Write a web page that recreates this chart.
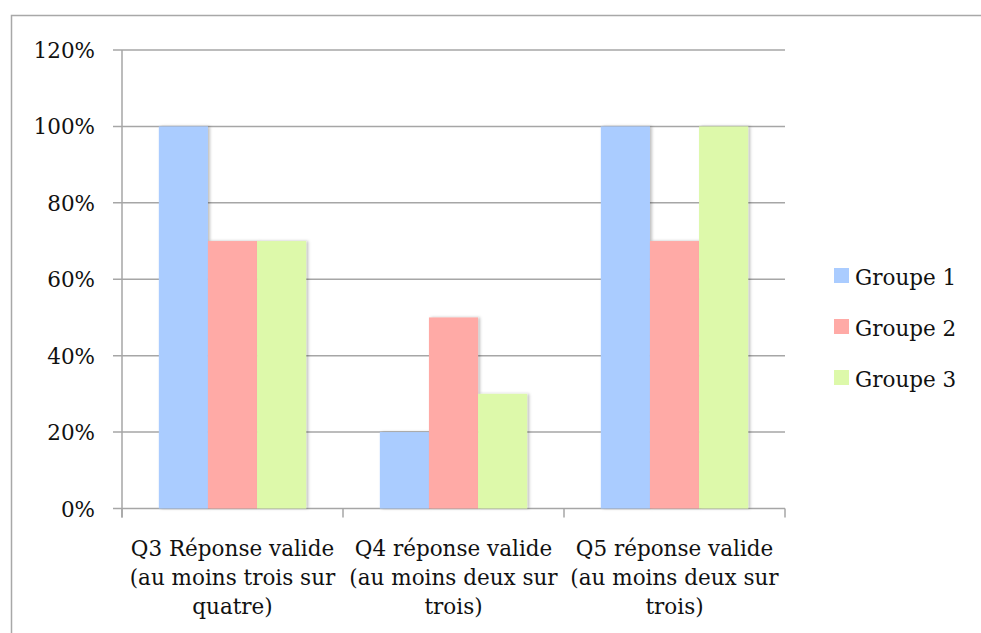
<!DOCTYPE html>
<html>
<head>
<meta charset="utf-8">
<script src="https://cdn.jsdelivr.net/npm/d3@7"></script>
<style>
  body { margin: 0; background: #fff; }
  text { font-family: "DejaVu Serif", serif; fill: #111; }
</style>
</head>
<body>
<script>
const categories = [
  ["Q3 Réponse valide", "(au moins trois sur", "quatre)"],
  ["Q4 réponse valide", "(au moins deux sur", "trois)"],
  ["Q5 réponse valide", "(au moins deux sur", "trois)"],
];
const series = ["Groupe 1", "Groupe 2", "Groupe 3"];
const groupe1 = [1.0, 0.2, 1.0];
const groupe2 = [0.7, 0.5, 0.7];
const groupe3 = [0.7, 0.3, 1.0];
const yTicks = [0, 0.2, 0.4, 0.6, 0.8, 1.0, 1.2];

const colors = ["#aaccff", "#ffaaa6", "#ddf9aa"];
const values = [groupe1, groupe2, groupe3];

const width = 981;
const height = 633;
const margin = { top: 50, left: 122, right: 196, bottom: 124 };
const taille = "21.5px";

const svg = d3
  .select("body")
  .append("svg")
  .attr("width", width)
  .attr("height", height);

// cadre
svg
  .append("rect")
  .attr("x", 11.5)
  .attr("y", 15.5)
  .attr("width", 980)
  .attr("height", 640)
  .attr("fill", "none")
  .attr("stroke", "#a8a8a8")
  .attr("stroke-width", 1.5);

const escalaY = d3
  .scaleLinear()
  .domain([0, 1.2])
  .range([height - margin.bottom - 0.5, margin.top]);

const escalaX = d3
  .scaleBand()
  .domain(d3.range(categories.length))
  .range([margin.left, width - margin.right])
  .paddingInner(0)
  .paddingOuter(0);

const escalaSerie = d3
  .scaleBand()
  .domain(d3.range(series.length))
  .range([0, escalaX.bandwidth()])
  .paddingOuter(0.75)
  .paddingInner(0);

// grille
svg
  .append("g")
  .selectAll("line")
  .data(yTicks)
  .join("line")
  .attr("x1", margin.left - 9)
  .attr("x2", width - margin.right)
  .attr("y1", (d) => escalaY(d))
  .attr("y2", (d) => escalaY(d))
  .attr("stroke", "#a6a6a6")
  .attr("stroke-width", 1.5);

// axe Y
svg
  .append("line")
  .attr("x1", margin.left)
  .attr("x2", margin.left)
  .attr("y1", margin.top)
  .attr("y2", escalaY(0) + 9)
  .attr("stroke", "#a6a6a6")
  .attr("stroke-width", 1.5);

svg
  .append("g")
  .selectAll("text")
  .data(yTicks)
  .join("text")
  .attr("x", 95)
  .attr("y", (d) => escalaY(d) + 8)
  .attr("text-anchor", "end")
  .style("font-size", taille)
  .text((d) => d3.format(".0%")(d));

// ticks axe X
const bornes = d3.range(categories.length + 1).map((i) =>
  i < categories.length ? escalaX(i) : escalaX(i - 1) + escalaX.bandwidth()
);
svg
  .append("g")
  .selectAll("line")
  .data(bornes)
  .join("line")
  .attr("x1", (d) => d)
  .attr("x2", (d) => d)
  .attr("y1", escalaY(0))
  .attr("y2", escalaY(0) + 9)
  .attr("stroke", "#a6a6a6")
  .attr("stroke-width", 1.5);

// ombre
const defs = svg.append("defs");
const filtre = defs
  .append("filter")
  .attr("id", "ombre")
  .attr("x", "-20%")
  .attr("y", "-5%")
  .attr("width", "140%")
  .attr("height", "110%");
filtre
  .append("feDropShadow")
  .attr("dx", 2)
  .attr("dy", 0)
  .attr("stdDeviation", 1.5)
  .attr("flood-color", "#000")
  .attr("flood-opacity", 0.25);

// barres
const groupes = svg
  .append("g")
  .selectAll("g")
  .data(series)
  .join("g")
  .attr("fill", (d, i) => colors[i]);

groupes
  .selectAll("rect")
  .data((d, i) => values[i].map((v, c) => ({ v, c, s: i })))
  .join("rect")
  .attr("x", (d) => escalaX(d.c) + escalaSerie(d.s))
  .attr("width", escalaSerie.bandwidth())
  .attr("y", (d) => escalaY(d.v))
  .attr("height", (d) => escalaY(0) - escalaY(d.v))
  .attr("filter", "url(#ombre)");

// étiquettes X
svg
  .append("g")
  .selectAll("text")
  .data(categories)
  .join("text")
  .attr("text-anchor", "middle")
  .attr("x", (d, i) => escalaX(i) + escalaX.bandwidth() / 2)
  .attr("y", 556)
  .style("font-size", taille)
  .selectAll("tspan")
  .data((d) => d)
  .join("tspan")
  .attr("x", function () {
    return this.parentNode.getAttribute("x");
  })
  .attr("dy", (d, i) => (i === 0 ? 0 : 29))
  .text((d) => d);

// légende
const legende = svg
  .append("g")
  .selectAll("g")
  .data(series)
  .join("g")
  .attr("transform", (d, i) => `translate(834, ${268 + i * 51})`);

legende
  .append("rect")
  .attr("width", 15)
  .attr("height", 15)
  .attr("fill", (d, i) => colors[i]);

legende
  .append("text")
  .attr("x", 21)
  .attr("y", 17)
  .style("font-size", taille)
  .text((d) => d);
</script>
</body>
</html>
